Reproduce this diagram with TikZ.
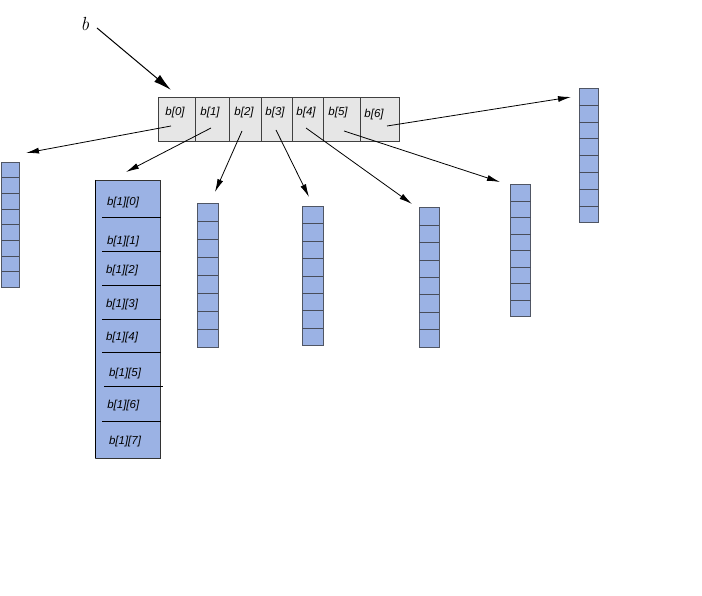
\documentclass[tikz,border=0pt]{standalone}
\usepackage{fontspec}
\setsansfont{Liberation Sans}
\usetikzlibrary{arrows.meta}
\definecolor{cellgray}{RGB}{230,230,230}
\definecolor{colblue}{RGB}{155,178,228}
\definecolor{coledge}{RGB}{80,86,100}
\tikzset{
  topcell/.style={draw=black!75, fill=cellgray, line width=0.8pt},
  colbox/.style={draw=coledge, fill=colblue, line width=0.8pt},
  sep/.style={draw=coledge!90!black, line width=0.8pt},
  lbl/.style={font=\sffamily\itshape\fontsize{11.5}{13}\selectfont, inner sep=0pt},
  ptr/.style={draw=black, line width=0.8pt, -{Latex[length=13pt,width=6pt]}},
  bigptr/.style={draw=black, line width=1pt, -{Latex[length=18pt,width=9pt]}}
}
\begin{document}
\begin{tikzpicture}[x=1pt,y=-1pt]
\useasboundingbox (0,0) rectangle (702,596);
% top array
\foreach \a/\b [count=\i from 0] in {158/195.5,195.5/229.5,229.5/261.5,261.5/292.5,292.5/323.5,323.5/360.5,360.5/399} {
  \path[topcell] (\a,97.5) rectangle (\b,141.5);
}
\node[lbl] (t0) at (175,113) {b[0]};
\node[lbl] (t1) at (210,113) {b[1]};
\node[lbl] (t2) at (244,113) {b[2]};
\node[lbl] (t3) at (275,113) {b[3]};
\node[lbl] (t4) at (306,113) {b[4]};
\node[lbl] (t5) at (338,113) {b[5]};
\node[lbl] (t6) at (374,115) {b[6]};
% label b
\node[font=\rmfamily\itshape\fontsize{19}{21}\selectfont, inner sep=0pt] (blab) at (85,24) {b};
\coordinate (bs) at (97,28);
\coordinate (be) at (171,90);
\draw[bigptr] (bs) -- (be);
% small columns: x1, x2, y1, y2
\newcommand{\smallcol}[5]{%
  \path[colbox] (#1,#3) rectangle (#2,#4);
  \coordinate (#5) at ({(#1+#2)/2},#3);
  \foreach \k in {1,...,7} {
    \draw[sep] (#1,{#3+\k*(#4-#3)/8}) -- (#2,{#3+\k*(#4-#3)/8});
  }
}
\smallcol{1.5}{19.3}{162}{287.3}{c0}
\smallcol{197.3}{218.3}{203.5}{347.3}{c2}
\smallcol{302.3}{323.3}{206.5}{345.7}{c3}
\smallcol{419.3}{439.3}{207.5}{347.3}{c4}
\smallcol{510.7}{530.7}{184.5}{316.7}{c5}
\smallcol{579.3}{598.7}{88.5}{222.7}{c6}
% big column
\path[colbox] (95.7,180) rectangle (160.7,458.3);
\draw[black, line width=1.4pt] (95.7,180) -- (95.7,458.3);
\draw[black!80, line width=0.9pt] (95.7,180) -- (160.7,180) -- (160.7,458.3) -- (95.7,458.3);
\foreach \y in {217,251.7,285.7,319,352.3,421} {
  \draw[black, line width=0.9pt] (102.3,\y) -- (160.7,\y);
}
\draw[black, line width=0.9pt] (104,386.7) -- (163,386.7);
\node[lbl] (m0) at (123,203) {b[1][0]};
\node[lbl] (m1) at (123,241.7) {b[1][1]};
\node[lbl] (m2) at (122,271) {b[1][2]};
\node[lbl] (m3) at (122,304.3) {b[1][3]};
\node[lbl] (m4) at (122,337.7) {b[1][4]};
\node[lbl] (m5) at (125,373.3) {b[1][5]};
\node[lbl] (m6) at (123.3,406) {b[1][6]};
\node[lbl] (m7) at (125,441.7) {b[1][7]};
% pointer arrows
\coordinate (s0) at (171,126); \coordinate (e0) at (26,153);
\coordinate (s1) at (211,128); \coordinate (e1) at (126,172);
\coordinate (s2) at (242,131); \coordinate (e2) at (215,192);
\coordinate (s3) at (276,130); \coordinate (e3) at (309,197);
\coordinate (s4) at (306,128); \coordinate (e4) at (412,204);
\coordinate (s5) at (344,131); \coordinate (e5) at (500,182);
\coordinate (s6) at (387,126); \coordinate (e6) at (571,97);
\foreach \i in {0,...,6} { \draw[ptr] (s\i) -- (e\i); }
\end{tikzpicture}
\end{document}
